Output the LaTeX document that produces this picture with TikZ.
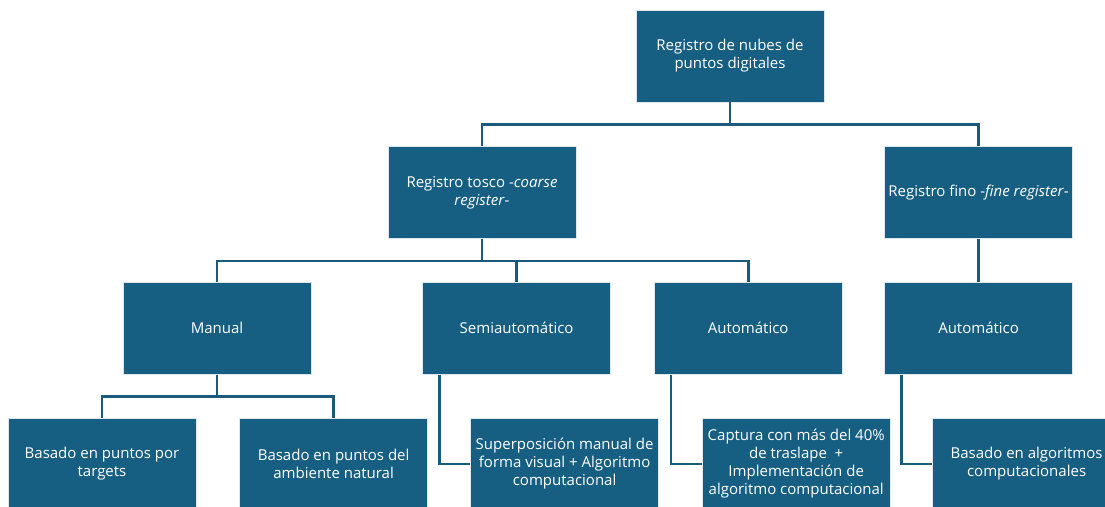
\documentclass[tikz,border=0pt]{standalone}
\usepackage{fontspec}
\setmainfont{Open Sans}
\usepackage{xcolor}
\usetikzlibrary{positioning}
\definecolor{boxblue}{HTML}{175F82}
\definecolor{lineblue}{HTML}{1A5A7A}

\begin{document}
\begin{tikzpicture}[x=1pt, y=1pt, node distance=44pt,
box/.style={draw=white!85!boxblue, line width=0.6pt, fill=boxblue, text=white, align=center,
minimum width=188pt, minimum height=92pt, inner sep=2pt, font=\fontsize{15}{18}\selectfont},
link/.style={draw=lineblue, line width=2.6pt}]
\useasboundingbox (0,0) rectangle (1105,-506);
\node[box] (nubes) at (730,-56) {Registro de nubes de\\puntos digitales};
\node[box, below=44pt of nubes, xshift=-248pt] (tosco) {Registro tosco -\textit{coarse}\\\textit{register}-};
\node[box, right=308pt of tosco] (fino) {Registro fino -\textit{fine register}-};
\node[box, below=43pt of tosco, xshift=-265pt] (manual) {Manual};
\node[box, right=111pt of manual] (semi) {Semiautomático};
\node[box, right=43pt of semi] (autotosco) {Automático};
\node[box, below=43pt of fino] (autofino) {Automático};
\node[box, below=43pt of manual, xshift=-115pt] (targets) {Basado en puntos por\\targets};
\node[box, right=43pt of targets] (ambiente) {Basado en puntos del\\ambiente natural};
\node[box, below=43pt of semi, xshift=48pt] (superpos) {Superposición manual de\\forma visual + Algoritmo\\computacional};
\node[box, below=43pt of autotosco, xshift=48pt] (captura) {Captura con más del 40\%\\de traslape~ +\\Implementación de\\algoritmo computacional};
\node[box, below=43pt of autofino, xshift=48pt] (algoritmos) {Basado en algoritmos\\computacionales};
\draw[link] (nubes.south) -- ++(0,-22) coordinate (j1);
\draw[link] (j1) -| (tosco.north);
\draw[link] (j1) -| (fino.north);
\draw[link] (tosco.south) -- ++(0,-22) coordinate (j2);
\draw[link] (j2) -| (manual.north);
\draw[link] (j2) -| (semi.north);
\draw[link] (j2) -| (autotosco.north);
\draw[link] (fino.south) -- (autofino.north);
\draw[link] (manual.south) -- ++(0,-22) coordinate (j3);
\draw[link] (j3) -| (targets.north);
\draw[link] (j3) -| (ambiente.north);
\draw[link] ([xshift=17pt]semi.south west) |- (superpos.west);
\draw[link] ([xshift=17pt]autotosco.south west) |- (captura.west);
\draw[link] ([xshift=17pt]autofino.south west) |- (algoritmos.west);
\end{tikzpicture}
\end{document}
